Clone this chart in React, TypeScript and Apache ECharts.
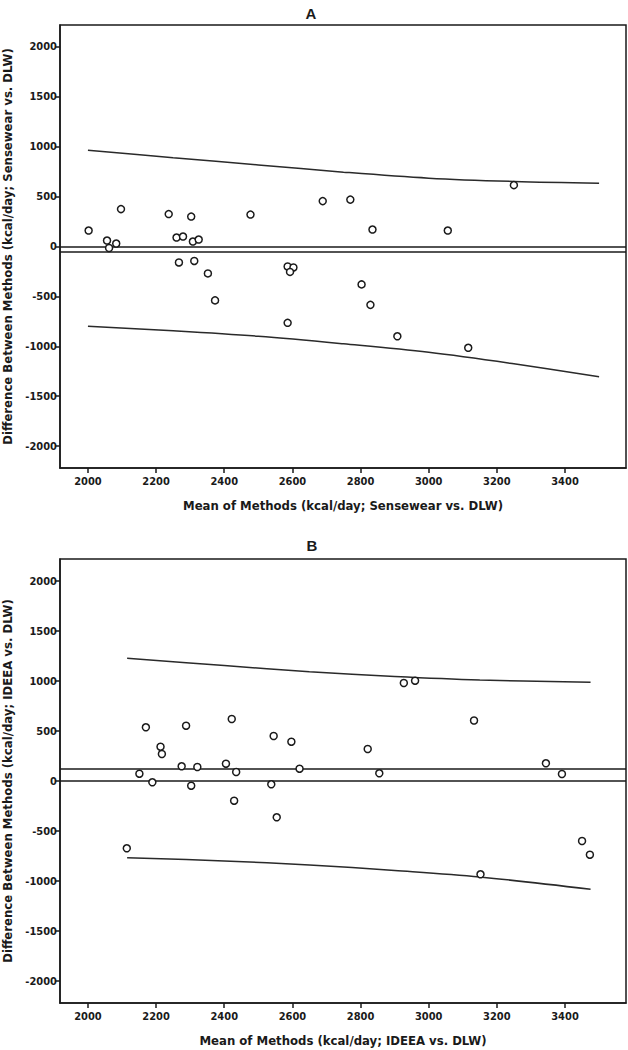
import React, { useEffect, useRef } from "react";
import * as echarts from "echarts";

// Panel A: Sensewear vs DLW
const A_MEAN = [2002, 2056, 2062, 2083, 2097, 2237, 2260, 2279, 2303, 2308, 2325, 2477, 2689, 2770, 2835, 3056, 3250, 2267, 2312, 2352, 2373, 2586, 2603, 2593, 2586, 2803, 2829, 2908, 3116];
const A_DIFF = [160, 60, -15, 30, 375, 325, 90, 100, 300, 50, 70, 320, 455, 470, 170, 160, 615, -160, -145, -270, -540, -200, -210, -255, -765, -380, -585, -900, -1015];
const A_BIAS = -57;
const A_LOA_X = [2000, 2250, 2500, 2750, 3000, 3250, 3500];
const A_UPPER = [965, 890, 818, 745, 685, 652, 635];
const A_LOWER = [-800, -845, -900, -975, -1060, -1175, -1305];

// Panel B: IDEEA vs DLW
const B_MEAN = [2927, 2960, 2422, 3133, 2170, 2288, 2213, 2217, 2545, 2597, 2821, 2275, 2321, 2405, 2435, 2621, 2855, 3344, 3391, 2151, 2189, 2303, 2538, 2429, 2554, 2114, 3450, 3473, 3152];
const B_DIFF = [980, 1003, 620, 605, 537, 553, 343, 270, 450, 393, 320, 147, 140, 173, 90, 123, 77, 177, 70, 73, -13, -47, -33, -197, -363, -673, -600, -737, -933];
const B_BIAS = 120;
const B_LOA_X = [2115, 2400, 2650, 2900, 3150, 3475];
const B_UPPER = [1227, 1155, 1093, 1045, 1010, 987];
const B_LOWER = [-767, -800, -840, -895, -960, -1083];

const X_TICKS = [2000, 2200, 2400, 2600, 2800, 3000, 3200, 3400];
const Y_TICKS = [-2000, -1500, -1000, -500, 0, 500, 1000, 1500, 2000];

const FONT = "'Liberation Sans Narrow', 'Arial Narrow', 'DejaVu Sans Condensed', sans-serif";
const INK = "#1a1a1a";

function zip(xs: number[], ys: number[]) {
  return xs.map((x, i) => [x, ys[i]]);
}

export default function App() {
  const ref = useRef<HTMLDivElement>(null);
  useEffect(() => {
    document.body.style.margin = "0";
    if (!ref.current) return;
    const chart = echarts.init(ref.current, null, { renderer: "svg" });

    const mkX = (gi: number, name: string) => ({
      gridIndex: gi,
      type: "value",
      min: 1918,
      max: 3579,
      name,
      nameLocation: "middle",
      nameGap: 31,
      nameTextStyle: { fontFamily: FONT, fontWeight: "bold", fontSize: 13, color: INK },
      axisLine: { show: true, onZero: false, lineStyle: { color: INK, width: 1.5 } },
      axisTick: { show: true, length: 5, customValues: X_TICKS, lineStyle: { color: INK, width: 1.5 } },
      axisLabel: {
        customValues: X_TICKS,
        margin: 8,
        fontFamily: FONT,
        fontWeight: "bold",
        fontSize: 11,
        color: INK,
        formatter: (v: number) => String(v),
      },
      splitLine: { show: false },
    });
    const mkY = (gi: number, name: string) => ({
      gridIndex: gi,
      type: "value",
      min: -2220,
      max: 2220,
      name,
      nameLocation: "middle",
      nameGap: 45,
      nameTextStyle: { fontFamily: FONT, fontWeight: "bold", fontSize: 13, color: INK },
      axisLine: { show: true, onZero: false, lineStyle: { color: INK, width: 1.5 } },
      axisTick: { show: true, length: 5, customValues: Y_TICKS, lineStyle: { color: INK, width: 1.5 } },
      axisLabel: {
        customValues: Y_TICKS,
        margin: 3,
        fontFamily: FONT,
        fontWeight: "bold",
        fontSize: 11,
        color: INK,
        formatter: (v: number) => String(v),
      },
      splitLine: { show: false },
    });

    const scatter = (gi: number, xs: number[], ys: number[], bias: number) => ({
      type: "scatter",
      xAxisIndex: gi,
      yAxisIndex: gi,
      data: zip(xs, ys),
      symbol: "circle",
      symbolSize: 7,
      z: 5,
      itemStyle: { color: "#fff", borderColor: INK, borderWidth: 1.5, opacity: 1 },
      markLine: {
        silent: true,
        symbol: ["none", "none"],
        label: { show: false },
        lineStyle: { color: INK, width: 1.5, type: "solid" },
        data: [{ yAxis: 0 }, { yAxis: bias }],
        z: 2,
      },
    });
    const loa = (gi: number, xs: number[], ys: number[]) => ({
      type: "line",
      xAxisIndex: gi,
      yAxisIndex: gi,
      data: zip(xs, ys),
      smooth: 0.35,
      showSymbol: false,
      symbol: "none",
      z: 3,
      lineStyle: { color: "#2a2a2a", width: 1.5 },
    });

    const titleStyle = { fontFamily: "'Liberation Sans', Arial, sans-serif", fontWeight: "bold", fontSize: 15, color: INK };
    chart.setOption({
      animation: false,
      backgroundColor: "#fff",
      title: [
        { text: "A", left: 306, top: 1, textAlign: "center", textStyle: titleStyle },
        { text: "B", left: 307, top: 533, textAlign: "center", textStyle: titleStyle },
      ],
      grid: [
        { left: 60, top: 25, width: 566, height: 443, outerBoundsMode: "none", containLabel: false, show: true, borderColor: INK, borderWidth: 1.5, backgroundColor: "transparent" },
        { left: 60, top: 559, width: 566, height: 444, outerBoundsMode: "none", containLabel: false, show: true, borderColor: INK, borderWidth: 1.5, backgroundColor: "transparent" },
      ],
      xAxis: [
        mkX(0, "Mean of Methods (kcal/day; Sensewear vs. DLW)"),
        mkX(1, "Mean of Methods (kcal/day; IDEEA vs. DLW)"),
      ],
      yAxis: [
        mkY(0, "Difference Between Methods (kcal/day; Sensewear vs. DLW)"),
        mkY(1, "Difference Between Methods (kcal/day; IDEEA vs. DLW)"),
      ],
      series: [
        scatter(0, A_MEAN, A_DIFF, A_BIAS),
        loa(0, A_LOA_X, A_UPPER),
        loa(0, A_LOA_X, A_LOWER),
        scatter(1, B_MEAN, B_DIFF, B_BIAS),
        loa(1, B_LOA_X, B_UPPER),
        loa(1, B_LOA_X, B_LOWER),
      ],
    });
    return () => chart.dispose();
  }, []);
  return <div ref={ref} style={{ width: 628, height: 1050 }} />;
}
